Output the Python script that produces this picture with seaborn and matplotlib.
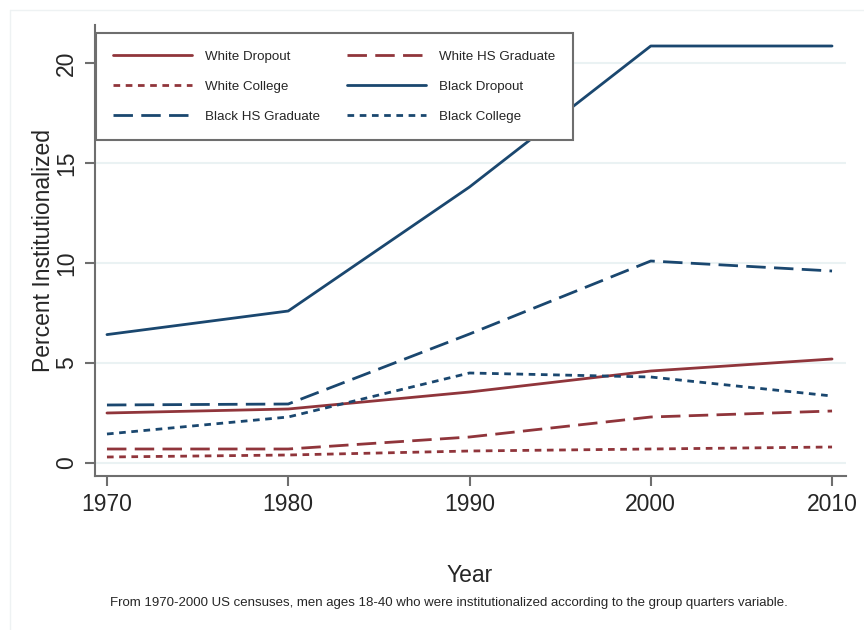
import pandas as pd
import matplotlib
matplotlib.use('Agg')
import matplotlib.pyplot as plt
from matplotlib.lines import Line2D
import seaborn as sns

# values (percent institutionalized)
years = [1970, 1980, 1990, 2000, 2010]
white_dropout = [2.5, 2.7, 3.55, 4.6, 5.2]
white_hs = [0.7, 0.7, 1.3, 2.3, 2.6]
white_college = [0.3, 0.4, 0.6, 0.7, 0.8]
black_dropout = [6.42, 7.6, 13.8, 20.85, 20.85]
black_hs = [2.9, 2.95, 6.45, 10.1, 9.6]
black_college = [1.45, 2.3, 4.5, 4.3, 3.35]

names = ['White Dropout', 'White HS Graduate', 'White College',
         'Black Dropout', 'Black HS Graduate', 'Black College']
series = [white_dropout, white_hs, white_college,
          black_dropout, black_hs, black_college]

red = '#90353b'
blue = '#1a476f'
palette = dict(zip(names, [red, red, red, blue, blue, blue]))
solid, dashed, dotted = '', (7, 3), (2.4, 2)
dashes = dict(zip(names, [solid, dashed, dotted, solid, dashed, dotted]))

rows = []
for n, vals in zip(names, series):
    for yr, v in zip(years, vals):
        rows.append({'Year': yr, 'value': v, 'series': n})
df = pd.DataFrame(rows)

sns.set_style('white')
plt.rcParams['font.family'] = ['Liberation Sans', 'DejaVu Sans']

fig = plt.figure(figsize=(8.64, 6.3), dpi=100)
ax = fig.add_axes([95 / 864, 1 - 476 / 630, (846 - 95) / 864, (476 - 25) / 630])

sns.lineplot(data=df, x='Year', y='value', hue='series', style='series',
             palette=palette, dashes=dashes, linewidth=2.0, ax=ax, legend=False)

ax.set_xlim(1969.34, 2010.77)
ax.set_ylim(-0.65, 21.9)
ax.set_xticks(years)
ax.set_yticks([0, 5, 10, 15, 20])
ax.yaxis.grid(True, color='#eaf2f3', linewidth=1.5)
ax.set_axisbelow(True)
for s in ['top', 'right']:
    ax.spines[s].set_visible(False)
for s in ['left', 'bottom']:
    ax.spines[s].set_color('#6e6e6e')
    ax.spines[s].set_linewidth(1.5)
ax.tick_params(axis='both', labelsize=16.5, length=7, width=1.5, color='#6e6e6e',
               direction='out', left=True, bottom=True, pad=5)
for lab in ax.get_yticklabels():
    lab.set_rotation(90)
    lab.set_va('center')

ax.set_ylabel('Percent Institutionalized', fontsize=16.5)
ax.yaxis.set_label_coords(-40 / 751, 0.5)
ax.set_xlabel('')
fig.text(470 / 864, 1 - 575 / 630, 'Year', ha='center', va='center', fontsize=16.5)
fig.text(449 / 864, 1 - 603 / 630,
         'From 1970-2000 US censuses, men ages 18-40 who were institutionalized '
         'according to the group quarters variable.',
         ha='center', va='center', fontsize=9.5)

# legend, filled row by row like the original
order = ['White Dropout', 'White College', 'Black HS Graduate',
         'White HS Graduate', 'Black Dropout', 'Black College']
handles = []
for n in order:
    d = dashes[n]
    ls = '-' if d == '' else (0, d)
    handles.append(Line2D([], [], color=palette[n], linewidth=2.0, linestyle=ls))
leg = ax.legend(handles, order, ncol=2, loc='upper left',
                bbox_to_anchor=(1 / 751, 1 - (33 - 25) / 451), borderaxespad=0,
                fontsize=9.6, handlelength=5.9, handletextpad=1.0, columnspacing=2.0,
                labelspacing=1.32, borderpad=1.3, fancybox=False, framealpha=1)
leg.get_frame().set_edgecolor('#6e6e6e')
leg.get_frame().set_linewidth(1.5)

# faint outer frame of the graph region
fig.add_artist(Line2D([10 / 864, 10 / 864], [0, 1 - 10 / 630], transform=fig.transFigure,
                      color='#eef2f3', linewidth=1))
fig.add_artist(Line2D([10 / 864, 1], [1 - 10 / 630, 1 - 10 / 630], transform=fig.transFigure,
                      color='#eef2f3', linewidth=1))

fig.savefig('out.png', dpi=100)
